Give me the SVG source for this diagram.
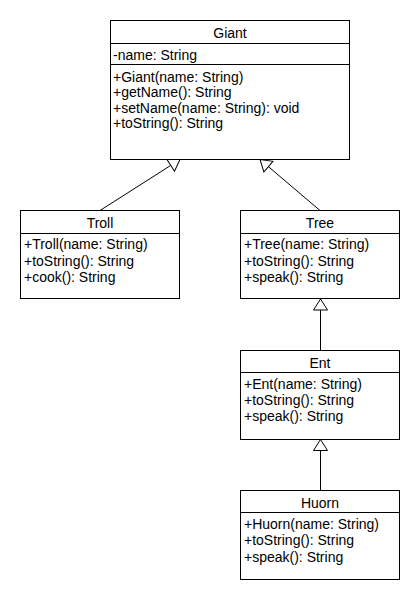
<svg xmlns="http://www.w3.org/2000/svg" width="420" height="600" viewBox="0 0 420 600">
<style>
.box{fill:#fff;stroke:#000;stroke-width:1}
.sep{stroke:#000;stroke-width:1}
text{font-family:"Liberation Sans",Arial,sans-serif;font-size:14px;fill:#000}
.t{text-anchor:middle}
.c{stroke:#000;stroke-width:1;fill:none}
</style>
<defs>
<marker id="gen" markerUnits="userSpaceOnUse" markerWidth="20" markerHeight="20" refX="11" refY="8" orient="auto" viewBox="0 0 20 16" overflow="visible">
<path d="M0,1 L11,8 L0,15 Z" fill="#fff" stroke="#000" stroke-width="1"/>
</marker>
</defs>
<rect width="420" height="600" fill="#fff"/>
<g id="connectors">
<line class="c" x1="100" y1="210.5" x2="180" y2="159.5" marker-end="url(#gen)"/>
<line class="c" x1="320" y1="210.5" x2="260" y2="159.5" marker-end="url(#gen)"/>
<line class="c" x1="320.5" y1="350.5" x2="320.5" y2="299" marker-end="url(#gen)"/>
<line class="c" x1="320.5" y1="490.5" x2="320.5" y2="439.5" marker-end="url(#gen)"/>
</g>
<g id="Giant">
<rect class="box" x="110.5" y="20.5" width="239" height="139"/>
<line class="sep" x1="110.5" y1="43.5" x2="349.5" y2="43.5"/>
<line class="sep" x1="110.5" y1="64.5" x2="349.5" y2="64.5"/>
<text class="t" x="230" y="38">Giant</text>
<text x="113" y="59.5">-name: String</text>
<text x="113" y="82">+Giant(name: String)</text>
<text x="113" y="97.3">+getName(): String</text>
<text x="113" y="112.6">+setName(name: String): void</text>
<text x="113" y="127.9">+toString(): String</text>
</g>
<g id="Troll">
<rect class="box" x="20.5" y="210.5" width="159" height="88"/>
<line class="sep" x1="20.5" y1="233.5" x2="179.5" y2="233.5"/>
<text class="t" x="100" y="227.7">Troll</text>
<text x="24" y="249.3">+Troll(name: String)</text>
<text x="24" y="265.5">+toString(): String</text>
<text x="24" y="281.7">+cook(): String</text>
</g>
<g id="Tree">
<rect class="box" x="240.5" y="210.5" width="159" height="88"/>
<line class="sep" x1="240.5" y1="233.5" x2="399.5" y2="233.5"/>
<text class="t" x="320" y="227.7">Tree</text>
<text x="244" y="249.3">+Tree(name: String)</text>
<text x="244" y="265.5">+toString(): String</text>
<text x="244" y="281.7">+speak(): String</text>
</g>
<g id="Ent">
<rect class="box" x="240.5" y="350.5" width="159" height="89"/>
<line class="sep" x1="240.5" y1="372.5" x2="399.5" y2="372.5"/>
<text class="t" x="320" y="368.3">Ent</text>
<text x="244" y="389">+Ent(name: String)</text>
<text x="244" y="405">+toString(): String</text>
<text x="244" y="421">+speak(): String</text>
</g>
<g id="Huorn">
<rect class="box" x="240.5" y="490.5" width="159" height="89"/>
<line class="sep" x1="240.5" y1="512.5" x2="399.5" y2="512.5"/>
<text class="t" x="320" y="508.3">Huorn</text>
<text x="244" y="528.5">+Huorn(name: String)</text>
<text x="244" y="545">+toString(): String</text>
<text x="244" y="561.5">+speak(): String</text>
</g>
</svg>
